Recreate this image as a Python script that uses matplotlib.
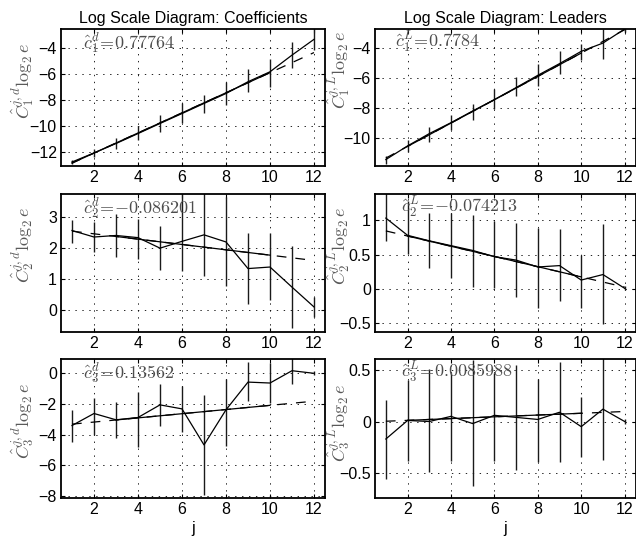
import matplotlib
matplotlib.use("Agg")
import matplotlib.pyplot as plt
import numpy as np

plt.rcParams["font.family"] = ["Liberation Sans", "DejaVu Sans"]
plt.rcParams["mathtext.fontset"] = "cm"
plt.rcParams["lines.scale_dashes"] = False

scales = np.arange(1, 13)

# wavelet coefficients, orders 1..3: estimate and confidence bar ends
coef_c1 = [-12.79, -12.09, -11.36, -10.59, -9.81, -9.04, -8.26, -7.49, -6.58, -5.81, -4.52, -3.30]
coef_c1_lo = [-12.95, -12.40, -11.80, -11.11, -10.46, -9.74, -8.99, -8.39, -7.36, -7.02, -5.55, -4.13]
coef_c1_hi = [-12.60, -11.75, -10.93, -10.02, -9.17, -8.26, -7.57, -6.58, -5.63, -4.85, -3.48, -2.40]

coef_c2 = [2.57, 2.36, 2.41, 2.34, 2.00, 2.22, 2.43, 2.20, 1.34, 1.39, 0.74, 0.10]
coef_c2_lo = [2.16, 1.87, 1.71, 1.66, 1.31, 1.27, 1.10, 0.77, 0.19, 0.32, -0.59, -0.23]
coef_c2_hi = [2.91, 2.86, 3.11, 2.95, 2.70, 3.90, 3.90, 3.64, 2.50, 2.49, 2.06, 0.43]

coef_c3 = [-3.41, -2.63, -3.04, -2.89, -2.07, -2.33, -4.67, -2.39, -0.59, -0.65, 0.15, -0.02]
coef_c3_lo = [-4.50, -4.02, -4.20, -4.78, -3.43, -3.80, -7.93, -4.72, -1.85, -1.96, -0.72, -0.15]
coef_c3_hi = [-2.39, -1.63, -1.89, -1.24, -0.72, -0.87, -1.46, -0.37, 0.72, 0.65, 1.00, 0.12]

# wavelet leaders, orders 1..3
lead_c1 = [-11.44, -10.53, -9.71, -8.98, -8.20, -7.44, -6.64, -5.82, -5.04, -4.22, -3.67, -2.73]
lead_c1_lo = [-11.71, -10.93, -10.27, -9.49, -8.82, -8.04, -7.22, -6.56, -5.76, -4.82, -4.71, -2.95]
lead_c1_hi = [-11.22, -10.16, -9.27, -8.49, -7.71, -6.71, -5.93, -5.04, -4.22, -3.71, -2.73, -2.40]

lead_c2 = [1.03, 0.78, 0.70, 0.63, 0.56, 0.47, 0.42, 0.32, 0.34, 0.13, 0.21, 0.01]
lead_c2_lo = [0.70, 0.51, 0.30, 0.16, 0.03, 0.01, -0.11, -0.27, -0.18, -0.28, -0.51, -0.02]
lead_c2_hi = [1.40, 1.28, 1.11, 1.11, 1.07, 0.99, 0.96, 0.89, 0.87, 0.50, 0.95, 0.04]

lead_c3 = [-0.17, 0.01, 0.00, 0.05, -0.02, 0.06, 0.04, 0.02, 0.09, -0.05, 0.12, 0.00]
lead_c3_lo = [-0.56, -0.38, -0.49, -0.38, -0.63, -0.38, -0.47, -0.39, -0.39, -0.34, -0.37, -0.02]
lead_c3_hi = [0.21, 0.40, 0.51, 0.47, 0.60, 0.47, 0.55, 0.41, 0.58, 0.24, 0.65, 0.02]

# regression estimates (slope, intercept) and fit ranges
slopes = [0.77764, 0.7784, -0.086201, -0.074213, 0.13562, 0.0085988]
slope_text = ["0.77764", "0.7784", "{-}0.086201", "{-}0.074213", "0.13562", "0.0085988"]
intercepts = [-13.655, -12.12, 2.636, 0.918, -3.457, -0.006]
fit_ranges = [(1, 10), (2, 10), (3, 10), (2, 10), (3, 10), (2, 10)]

ylims = [(-13.1, -2.5), (-11.87, -2.73), (-0.7, 3.75), (-0.62, 1.38), (-8.1, 0.93), (-0.74, 0.61)]
yticks = [
    [-12, -10, -8, -6, -4],
    [-10, -8, -6, -4],
    [0, 1, 2, 3],
    [-0.5, 0, 0.5, 1],
    [-8, -6, -4, -2, 0],
    [-0.5, 0, 0.5],
]
ylabel_y = [0.62, 0.70, 0.63, 0.62, 0.55, 0.54]
note_x = [0.083, 0.076, 0.082, 0.10, 0.084, 0.10]


def _tick_fmt(value, _pos):
    return f"{value:g}".replace("-", "\u2212")


def _draw_panel(ax, idx, est, lo, hi, kind, order):
    ax.vlines(scales, lo, hi, color="0.1", linewidth=1.0)
    ax.plot(scales, est, color="k", linewidth=0.9)

    fit_y = slopes[idx] * scales + intercepts[idx]
    ax.plot(scales, fit_y, color="k", linewidth=0.9, dashes=(7, 6.5))
    j1, j2 = fit_ranges[idx]
    part = (scales >= j1) & (scales <= j2)
    ax.plot(scales[part], fit_y[part], color="k", linewidth=0.9)

    ax.set_xlim(0.5, 12.5)
    ax.set_ylim(*ylims[idx])
    ax.set_xticks([2, 4, 6, 8, 10, 12])
    ax.set_yticks(yticks[idx])
    ax.xaxis.set_major_formatter(matplotlib.ticker.FuncFormatter(_tick_fmt))
    ax.yaxis.set_major_formatter(matplotlib.ticker.FuncFormatter(_tick_fmt))
    ax.grid(True, color="k", linestyle=(0, (1, 4)), linewidth=0.6)
    ax.tick_params(direction="in", length=3, top=True, right=True, labelsize=11.5, pad=3)
    for spine in ax.spines.values():
        spine.set_linewidth(1.3)

    ax.text(note_x[idx], 0.90, rf"$\hat{{c}}_{order}^{kind}\!=\!{slope_text[idx]}$",
            transform=ax.transAxes, va="center", ha="left", fontsize=13, color="0.3")
    ax.set_ylabel(rf"$\hat{{C}}_{order}^{{j,{kind}}}\log_2 e$", fontsize=13, color="0.35")
    ax.yaxis.set_label_coords(-0.095 if idx % 2 == 0 else -0.088, ylabel_y[idx])


fig = plt.figure(figsize=(6.36, 5.42), dpi=100)

col_x = [(61 / 636, 264 / 636), (375 / 636, 260.5 / 636)]
row_y = [(29, 166), (194, 331.7), (358.7, 497.7)]

series = [
    (coef_c1, coef_c1_lo, coef_c1_hi, "d", 1),
    (lead_c1, lead_c1_lo, lead_c1_hi, "L", 1),
    (coef_c2, coef_c2_lo, coef_c2_hi, "d", 2),
    (lead_c2, lead_c2_lo, lead_c2_hi, "L", 2),
    (coef_c3, coef_c3_lo, coef_c3_hi, "d", 3),
    (lead_c3, lead_c3_lo, lead_c3_hi, "L", 3),
]

axes = []
for idx, (est, lo, hi, kind, order) in enumerate(series):
    row, col = divmod(idx, 2)
    x0, w = col_x[col]
    top, bottom = row_y[row]
    ax = fig.add_axes([x0, 1 - bottom / 542, w, (bottom - top) / 542])
    _draw_panel(ax, idx, est, lo, hi, kind, order)
    axes.append(ax)

axes[0].set_title("Log Scale Diagram: Coefficients", fontsize=11.5, pad=4)
axes[1].set_title("Log Scale Diagram: Leaders", fontsize=11.5, pad=4)
axes[4].set_xlabel("j", fontsize=11.5, labelpad=3)
axes[5].set_xlabel("j", fontsize=11.5, labelpad=3)

fig.savefig("out.png", dpi=100)
